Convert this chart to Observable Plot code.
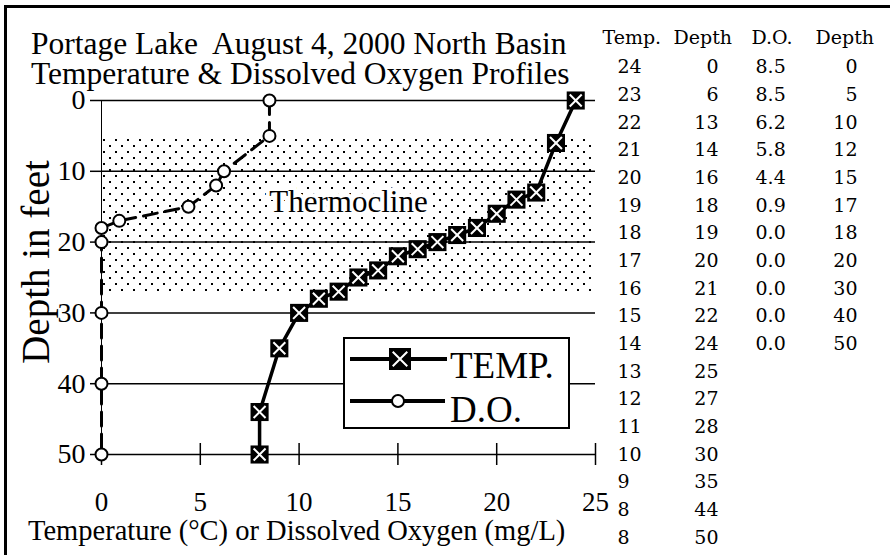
<!DOCTYPE html>
<html>
<head>
<meta charset="utf-8">
<script src="https://cdn.jsdelivr.net/npm/d3@7"></script>
<script src="https://cdn.jsdelivr.net/npm/@observablehq/plot@0.6"></script>
<style>
  html, body { margin: 0; padding: 0; background: white; }
  #wrap { position: relative; width: 890px; height: 555px; overflow: hidden; background: white; }
  #wrap svg { position: absolute; left: 0; top: 0; }
</style>
</head>
<body>
<div id="wrap"></div>
<script>
// ---- data ----
const temps      = [24, 23, 22, 21, 20, 19, 18, 17, 16, 15, 14, 13, 12, 11, 10, 9, 8, 8];
const tempDepths = [0, 6, 13, 14, 16, 18, 19, 20, 21, 22, 24, 25, 27, 28, 30, 35, 44, 50];
const doValues   = [8.5, 8.5, 6.2, 5.8, 4.4, 0.9, 0.0, 0.0, 0.0, 0.0, 0.0];
const doDepths   = [0, 5, 10, 12, 15, 17, 18, 20, 30, 40, 50];
const xTicks = [0, 5, 10, 15, 20, 25];
const yTicks = [0, 10, 20, 30, 40, 50];
const thermocline = [5, 27];
const tableHeaders = ["Temp.", "Depth", "D.O.", "Depth"];
const titleLines = ["Portage Lake  August 4, 2000 North Basin", "Temperature & Dissolved Oxygen Profiles"];
const xTitle = "Temperature (°C) or Dissolved Oxygen (mg/L)";
const yTitle = "Depth in feet";
const seriesNames = ["TEMP.", "D.O."];

const tempData = temps.map((t, i) => ({temp: t, depth: tempDepths[i]}));
const doData = doValues.map((v, i) => ({do: v, depth: doDepths[i]}));

const serif = "'Liberation Serif', 'Times New Roman', serif";

// ---- main chart ----
const chart = Plot.plot({
  width: 890, height: 555,
  marginLeft: 101, marginRight: 295, marginTop: 100, marginBottom: 101,
  x: {domain: [0, 25]},
  y: {domain: [0, 50], reverse: true},
  style: {fontFamily: serif, fontSize: "28px", color: "black", background: "transparent", overflow: "visible"},
  marks: [
    Plot.rect([thermocline], {x1: 0, x2: 25, y1: d => d[0], y2: d => d[1], fill: "url(#dots)"}),
    Plot.ruleY(yTicks, {stroke: "black", strokeWidth: 1.5}),
    Plot.ruleX([0], {y1: 0, y2: 50, stroke: "black", strokeWidth: 1}),
    Plot.axisY({ticks: yTicks, tickSize: 11, tickPadding: 5, label: null, fontSize: 28, strokeWidth: 1.5}),
    Plot.axisX({ticks: xTicks, tickSize: 22, dy: -11, tickPadding: 26, label: null, fontSize: 27, strokeWidth: 1.5}),
    Plot.text(["Thermocline"], {x: 12.5, y: (thermocline[0] + thermocline[1]) / 2, dy: -12,
      fontSize: 31, fill: "black", stroke: "white", strokeWidth: 8, paintOrder: "stroke", strokeLinejoin: "miter"}),
    Plot.line(doData, {x: "do", y: "depth", stroke: "black", strokeWidth: 3, strokeDasharray: "14,8"}),
    Plot.line(tempData, {x: "temp", y: "depth", stroke: "black", strokeWidth: 3.5}),
    Plot.dot(tempData, {x: "temp", y: "depth", symbol: "square", r: 10.2, fill: "black"}),
    Plot.dot(tempData, {x: "temp", y: "depth", symbol: "times", r: 5.5, stroke: "white", strokeWidth: 2}),
    Plot.dot(doData, {x: "do", y: "depth", r: 6, fill: "white", stroke: "black", strokeWidth: 2})
  ]
});

const svg = d3.select(chart);
const pat = svg.insert("defs", ":first-child").append("pattern")
  .attr("id", "dots").attr("patternUnits", "userSpaceOnUse")
  .attr("width", 12).attr("height", 12);
pat.append("rect").attr("width", 12).attr("height", 12).attr("fill", "white");
pat.append("rect").attr("x", 1).attr("y", 1).attr("width", 2).attr("height", 2).attr("fill", "black");
pat.append("rect").attr("x", 7).attr("y", 7).attr("width", 2).attr("height", 2).attr("fill", "black");

// legend
const lg = svg.append("g").attr("text-anchor", "start");
lg.append("rect").attr("x", 344).attr("y", 338).attr("width", 225).attr("height", 90)
  .attr("fill", "white").attr("stroke", "black").attr("stroke-width", 2);
lg.append("line").attr("x1", 350).attr("x2", 447).attr("y1", 359).attr("y2", 359)
  .attr("stroke", "black").attr("stroke-width", 4);
lg.append("rect").attr("x", 389).attr("y", 348).attr("width", 22).attr("height", 22).attr("fill", "black");
lg.append("path").attr("transform", "translate(400,359)")
  .attr("d", d3.symbol(d3.symbolTimes, 140)()).attr("stroke", "white").attr("stroke-width", 2).attr("fill", "none");
lg.append("line").attr("x1", 350).attr("x2", 445).attr("y1", 401).attr("y2", 401)
  .attr("stroke", "black").attr("stroke-width", 4);
lg.append("circle").attr("cx", 398).attr("cy", 401).attr("r", 6)
  .attr("fill", "white").attr("stroke", "black").attr("stroke-width", 2);
lg.selectAll("text.lg").data(seriesNames).join("text")
  .attr("x", 450).attr("y", (d, i) => i === 0 ? 378 : 421.5).attr("text-anchor", "start")
  .attr("font-family", serif).attr("font-size", 37).attr("fill", "black").text(d => d);

// titles
const tg = svg.append("g").attr("text-anchor", "start");
tg.selectAll("text.title").data(titleLines).join("text")
  .attr("x", 31).attr("y", (d, i) => 54 + i * 30).attr("text-anchor", "start")
  .attr("font-family", serif).attr("font-size", 31.5).attr("fill", "black")
  .style("white-space", "pre").text(d => d);
tg.append("text").attr("x", 28).attr("y", 540).attr("text-anchor", "start")
  .attr("font-family", serif).attr("font-size", 28.5).attr("fill", "black").text(xTitle);
tg.append("text").attr("transform", "translate(49,262) rotate(-90)").attr("text-anchor", "middle")
  .attr("font-family", serif).attr("font-size", 39).attr("fill", "black").text(yTitle);

// frame
svg.append("path").attr("d", "M5.5,560V6.5H895").attr("fill", "none")
  .attr("stroke", "black").attr("stroke-width", 3);

document.getElementById("wrap").appendChild(chart);

// ---- data table ----
const tableCols = [
  {values: temps.map(String), x: 617, anchor: "start"},
  {values: tempDepths.map(String), x: 718, anchor: "end"},
  {values: doValues.map(v => v.toFixed(1)), x: 755, anchor: "start"},
  {values: doDepths.map(String), x: 857, anchor: "end"}
];
const headerX = [602, 673, 751, 815];

const table = Plot.plot({
  width: 890, height: 555, margin: 0, axis: null,
  x: {type: "identity"},
  y: {domain: [-1, 17], range: [39, 537]},
  style: {fontFamily: "'DejaVu Serif', serif", fontSize: "19px", color: "black", background: "transparent"},
  marks: [
    Plot.text(tableHeaders, {x: (d, i) => headerX[i], y: -1, text: d => d, textAnchor: "start", fontSize: 19, dy: -2}),
    ...tableCols.map(c => Plot.text(c.values, {x: c.x, y: (d, i) => i, text: d => d, textAnchor: c.anchor, fontSize: 19}))
  ]
});
document.getElementById("wrap").appendChild(table);
</script>
</body>
</html>
